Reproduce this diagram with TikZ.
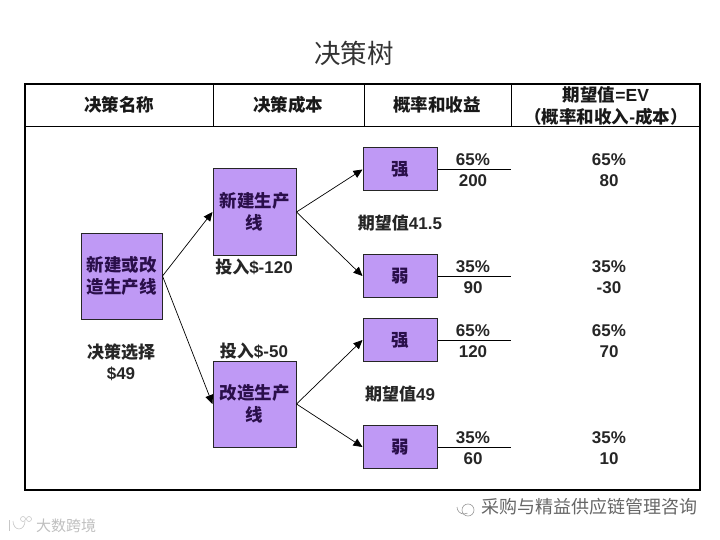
\documentclass[tikz,border=0pt]{standalone}
\usepackage{fontspec}
\setmainfont{Liberation Sans}
\newfontfamily\cjk{Noto Sans CJK SC}
\newcommand{\zh}[1]{{\cjk\bfseries #1}}
\usetikzlibrary{arrows.meta}
\definecolor{boxfill}{HTML}{BF99F5}
\definecolor{boxtext}{HTML}{2A0F4A}
\tikzset{
  pbox/.style={draw=black!85,line width=1pt,fill=boxfill,text=boxtext,inner sep=0pt,align=center,font=\bfseries\fontsize{17.5}{22}\selectfont},
  lab/.style={inner sep=0pt,align=center,text=black!85,font=\bfseries\fontsize{17}{21}\selectfont},
  hdr/.style={inner sep=0pt,align=center,text=black!90,font=\bfseries\fontsize{17.5}{22}\selectfont},
  conn/.style={draw=black,line width=0.7pt,-{Triangle[length=9pt,width=8pt]}},
  rule/.style={draw=black,line width=1pt},
  mark line/.style={draw=black!40,line width=0.6pt},
}
\begin{document}
\begin{tikzpicture}[x=1pt,y=-1pt]
\useasboundingbox (0,0) rectangle (720,540);
\node[inner sep=0pt,font=\cjk\fontsize{26.5}{30}\selectfont,text=black!80] (title) at (354,53) {决策树};
% frame
\coordinate (fnw) at (25,84); \coordinate (fse) at (700,490);
\draw[draw=black,line width=1.3pt] (fnw) rectangle (fse);
\coordinate (hl) at (25,127); \coordinate (hr) at (700,127);
\draw[rule] (hl) -- (hr);
\foreach \x in {213,364,511} { \draw[draw=black,line width=0.6pt] (\x,84) -- (\x,127); }
\node[hdr] (h1) at (119,105) {\zh{决策名称}};
\node[hdr] (h2) at (288,105) {\zh{决策成本}};
\node[hdr] (h3) at (437,105) {\zh{概率和收益}};
\node[hdr] (h4) at (606,105.5) {\zh{期望值}=EV\\\zh{（概率和收入}-\zh{成本）}};
% boxes
\node[pbox,minimum width=81pt,minimum height=86pt] (root) at (121.5,276) {\zh{新建或改}\\\zh{造生产线}};
\node[pbox,minimum width=83pt,minimum height=86pt] (a) at (254.5,212) {\zh{新建生产}\\\zh{线}};
\node[pbox,minimum width=83pt,minimum height=86pt] (b) at (254.5,404) {\zh{改造生产}\\\zh{线}};
\node[pbox,minimum width=74pt,minimum height=43pt] (a1) at (400,169.5) {\zh{强}};
\node[pbox,minimum width=74pt,minimum height=43pt] (a2) at (400,276) {\zh{弱}};
\node[pbox,minimum width=74pt,minimum height=43pt] (b1) at (400,340) {\zh{强}};
\node[pbox,minimum width=74pt,minimum height=43pt] (b2) at (400,447) {\zh{弱}};
\draw[conn] (root.east) -- (a.west);
\draw[conn] (root.east) -- (b.west);
\draw[conn] (a.east) -- (a1.west);
\draw[conn] (a.east) -- (a2.west);
\draw[conn] (b.east) -- (b1.west);
\draw[conn] (b.east) -- (b2.west);
% result lines
\foreach \n/\y in {a1/169.5,a2/276,b1/340,b2/447} {
  \coordinate (\n e) at (511,\y);
  \draw[rule] (\n.east) -- (\n e);
}
% labels
\node[lab] (l1) at (121,362) {\zh{决策选择}\\\$49};
\node[lab] (l2) at (254,267) {\zh{投入}\$-120};
\node[lab] (l3) at (254,351) {\zh{投入}\$-50};
\node[lab] (e1) at (400,223) {\zh{期望值}41.5};
\node[lab] (e2) at (400,394) {\zh{期望值}49};
\node[lab] (p1) at (473,170.5) {65\%\\200};
\node[lab] (p2) at (473,277) {35\%\\90};
\node[lab] (p3) at (473,341) {65\%\\120};
\node[lab] (p4) at (473,448) {35\%\\60};
\node[lab] (v1) at (609,170.5) {65\%\\80};
\node[lab] (v2) at (609,277) {35\%\\-30};
\node[lab] (v3) at (609,341) {65\%\\70};
\node[lab] (v4) at (609,448) {35\%\\10};
% watermarks
\node[inner sep=0pt,anchor=west,text=black!60,font=\cjk\fontsize{18}{20}\selectfont] (w1) at (481,507) {采购与精益供应链管理咨询};
\node[inner sep=0pt,anchor=west,text=black!25,font=\cjk\fontsize{15}{17}\selectfont] (w2) at (36,526) {大数跨境};
\draw[mark line] (468,510) circle (6pt);
\draw[mark line] (457,507) arc (180:300:7pt);
\draw[mark line,draw=black!22] (9,520) -- (9,531);
\draw[mark line,draw=black!22] (13,521) arc (180:360:6pt and 8pt);
\draw[mark line,draw=black!22] (23,519) circle (2.5pt) (29,519) circle (2.5pt);
\end{tikzpicture}
\end{document}
